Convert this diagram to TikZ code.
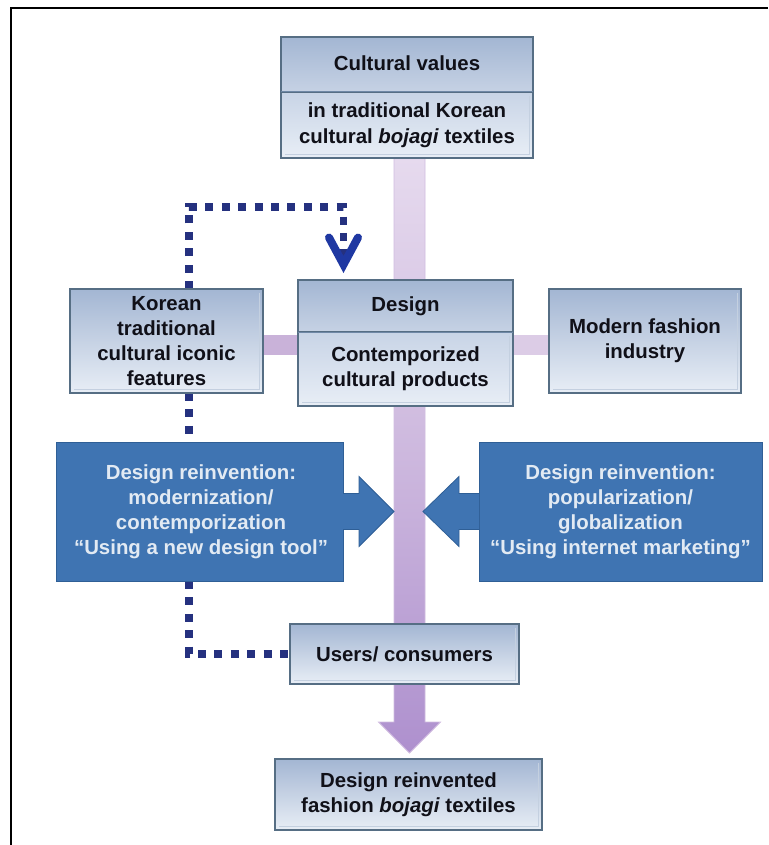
\documentclass[tikz,border=0pt]{standalone}
\usepackage{fontspec}
\setmainfont{Liberation Sans}
\usetikzlibrary{calc,arrows.meta,backgrounds}
\definecolor{boxedge}{HTML}{566E84}
\definecolor{inedge}{HTML}{C4D0E0}
\definecolor{divline}{HTML}{6F88A6}
\definecolor{gA}{HTML}{A3B6D3}
\definecolor{gB}{HTML}{C6D2E4}
\definecolor{gC}{HTML}{C8D4E6}
\definecolor{gD}{HTML}{E8EEF6}
\definecolor{bluefill}{HTML}{3F74B2}
\definecolor{blueedge}{HTML}{2F5F96}
\definecolor{bluetext}{HTML}{E2EAF3}
\definecolor{navy}{HTML}{25317F}
\definecolor{tipblue}{HTML}{1F38A2}
\definecolor{inktext}{HTML}{101018}
\definecolor{barL}{HTML}{C9B2D9}
\definecolor{barR}{HTML}{DCCCE6}
\definecolor{barTop}{HTML}{E6DAEE}
\definecolor{barMid}{HTML}{CDB8DE}
\definecolor{barBot}{HTML}{AE90CE}
\tikzset{
  every node/.style={font=\bfseries\fontsize{20.4}{25}\selectfont,align=center,inner sep=0pt,outer sep=0pt},
  gbox/.style={draw=boxedge,line width=2pt,text=inktext,top color=gA,bottom color=gD,middle color=gB},
  headbox/.style={draw=boxedge,line width=2pt,text=inktext,top color=gA,bottom color=gB},
  bodybox/.style={draw=boxedge,line width=2pt,text=inktext,top color=gC,bottom color=gD},
  bluebox/.style={fill=bluefill,draw=blueedge,line width=0.8pt,text=bluetext},
  bluearrow/.style={fill=bluefill,draw=blueedge,line width=0.8pt,line join=miter},
  dotline/.style={draw=navy,line width=7.5pt,dash pattern=on 8pt off 8.4pt},
  hbarA/.style={draw=barL,line width=20pt},
  hbarB/.style={draw=barR,line width=20pt},
  inset/.style={draw=inedge,line width=0.8pt},
  divider/.style={draw=divline,line width=1pt}
}
\begin{document}
\begin{tikzpicture}[x=1pt,y=-1pt]
\useasboundingbox (0,0) rectangle (768,845);
\draw[black,line width=2pt] (10.5,845) -- (10.5,8.5) -- (768,8.5);
% boxes
\node[headbox,minimum width=252pt,minimum height=55pt] (cvh) at (407,64.5) {\raisebox{3.5pt}{Cultural values}};
\node[bodybox,minimum width=252pt,minimum height=66pt] (cvb) at (407,125) {in traditional Korean\\[1pt]cultural \textit{bojagi} textiles};
\node[headbox,minimum width=215pt,minimum height=52pt] (dh) at (405.5,306) {Design};
\node[bodybox,minimum width=215pt,minimum height=74pt] (db) at (405.5,369) {Contemporized\\cultural products};
\node[gbox,minimum width=193pt,minimum height=104pt] (kor) at (166.5,341) {Korean\\traditional\\cultural iconic\\features};
\node[gbox,minimum width=192pt,minimum height=104pt] (mod) at (645,341) {Modern fashion\\industry};
\node[bluebox,minimum width=287pt,minimum height=139pt] (bl) at (199.5,511.5) {\hspace*{3pt}Design reinvention:\\\hspace*{3pt}modernization/\\\hspace*{3pt}contemporization\\\hspace*{3pt}“Using a new design tool”};
\node[bluebox,minimum width=283pt,minimum height=139pt] (br) at (620.5,511.5) {Design reinvention:\\popularization/\\globalization\\“Using internet marketing”};
\node[gbox,minimum width=229pt,minimum height=60pt] (usr) at (404.5,654) {Users/ consumers};
\node[gbox,minimum width=267pt,minimum height=71pt] (fin) at (408.5,794.5) {Design reinvented\\fashion \textit{bojagi} textiles};
% inner frame lines
\foreach \n in {cvb,db,kor,mod,usr,fin}{
  \draw[inset] ($(\n.north east)+(-4,4)$) -- ($(\n.south east)+(-4,-4)$) -- ($(\n.south west)+(4,-4)$);
}
% dividers inside the two-part boxes
\draw[divider] (cvh.south west) -- (cvh.south east);
\draw[divider] (dh.south west) -- (dh.south east);
% named free ends
\coordinate (hl) at (0,345);
\coordinate (ax) at (409.5,0);
\coordinate (tipc) at (409.5,753);
\coordinate (dx) at (189,0);
\coordinate (upy) at (0,207);
\coordinate (inx) at (343.5,0);
\coordinate (iny) at (0,273);
\coordinate (lowy) at (0,654);
% blue arrows
\path[bluearrow] ($(bl.east)+(0,-18)$) -- ($(bl.east)+(16,-18)$) -- ($(bl.east)+(16,-35)$) -- ($(bl.east)+(51,0)$) -- ($(bl.east)+(16,35)$) -- ($(bl.east)+(16,18)$) -- ($(bl.east)+(0,18)$);
\path[bluearrow] ($(br.west)+(0,-18)$) -- ($(br.west)+(-20,-18)$) -- ($(br.west)+(-20,-35)$) -- ($(br.west)+(-56,0)$) -- ($(br.west)+(-20,35)$) -- ($(br.west)+(-20,18)$) -- ($(br.west)+(0,18)$);
\begin{scope}[on background layer]
  \fill[white] (0,0) rectangle (768,845);
  % main shaft with arrow head
  \path[draw=barMid!85!barTop,line width=0.8pt,top color=barTop,bottom color=barBot,middle color=barMid]
    ($(ax |- cvb.south)+(-15.5,0)$) -- ($(ax |- cvb.south)+(15.5,0)$) -- ($(tipc)+(15.5,-31)$) -- ($(tipc)+(31,-31)$)
    -- (tipc) -- ($(tipc)+(-31,-31)$) -- ($(tipc)+(-15.5,-31)$) -- cycle;
  \draw[hbarA] (kor.east |- hl) -- (db.west |- hl);
  \draw[hbarB] (db.east |- hl) -- (mod.west |- hl);
  % dotted connectors
  \path[dotline,-{Straight Barb[length=27pt,width=29pt,line width=8pt,line cap=round,line join=miter,color=tipblue]}] (dx |- kor.north) -- (dx |- upy) -- (inx |- upy) -- (inx |- iny);
  \path[dotline] (dx |- kor.south) -- (dx |- bl.north);
  \path[dotline] (dx |- bl.south) -- (dx |- lowy) -- (usr.west |- lowy);
\end{scope}
\end{tikzpicture}
\end{document}
